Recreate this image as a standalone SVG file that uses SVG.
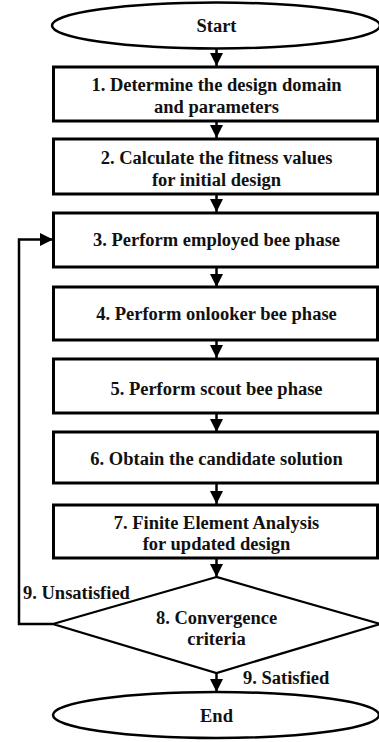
<svg xmlns="http://www.w3.org/2000/svg" width="379" height="742" viewBox="0 0 379 742">
<style>
.box{fill:#fff;stroke:#000;stroke-width:3}
.term{fill:#fff;stroke:#000;stroke-width:2.5}
.dia{fill:#fff;stroke:#000;stroke-width:2.2}
text{font-family:'Liberation Serif','Times New Roman',Times,serif;font-weight:bold;font-size:18.5px;fill:#111}
.t{text-anchor:middle}
.c{fill:none;stroke:#000;stroke-width:2.5}
</style>
<defs>
<marker id="ah" markerWidth="13" markerHeight="13" refX="13" refY="6.5" orient="auto" markerUnits="userSpaceOnUse">
<path d="M0,0 L13,6.5 L0,13 Z" fill="#000"/>
</marker>
</defs>
<g id="connectors">
<line class="c" x1="216.5" y1="49" x2="216.5" y2="66" marker-end="url(#ah)"/>
<line class="c" x1="216.5" y1="121" x2="216.5" y2="138" marker-end="url(#ah)"/>
<line class="c" x1="216.5" y1="194" x2="216.5" y2="212" marker-end="url(#ah)"/>
<line class="c" x1="216.5" y1="267" x2="216.5" y2="287" marker-end="url(#ah)"/>
<line class="c" x1="216.5" y1="340" x2="216.5" y2="358" marker-end="url(#ah)"/>
<line class="c" x1="216.5" y1="413" x2="216.5" y2="432" marker-end="url(#ah)"/>
<line class="c" x1="216.5" y1="483" x2="216.5" y2="504" marker-end="url(#ah)"/>
<line class="c" x1="216.5" y1="558" x2="216.5" y2="577" marker-end="url(#ah)"/>
<line class="c" x1="216.5" y1="673" x2="216.5" y2="692" marker-end="url(#ah)"/>
<polyline class="c" points="53,624 19,624 19,239.5 53,239.5" stroke-width="3" marker-end="url(#ah)"/>
<text x="23" y="599">9. Unsatisfied</text>
<text x="243" y="684">9. Satisfied</text>
</g>
<g id="start">
<ellipse class="term" cx="216" cy="25.5" rx="164" ry="23"/>
<text class="t" x="216.5" y="32">Start</text>
</g>
<g id="step1">
<rect class="box" x="53.5" y="67" width="324" height="54"/>
<text class="t" x="216.5" y="90.5">1. Determine the design domain</text>
<text class="t" x="216.5" y="112.5">and parameters</text>
</g>
<g id="step2">
<rect class="box" x="53.5" y="139" width="324" height="55"/>
<text class="t" x="216.5" y="163.5">2. Calculate the fitness values</text>
<text class="t" x="216.5" y="185.5">for initial design</text>
</g>
<g id="step3">
<rect class="box" x="53.5" y="213" width="324" height="54"/>
<text class="t" x="216.5" y="245.5">3. Perform employed bee phase</text>
</g>
<g id="step4">
<rect class="box" x="53.5" y="287" width="324" height="53"/>
<text class="t" x="216.5" y="319.5">4. Perform onlooker bee phase</text>
</g>
<g id="step5">
<rect class="box" x="53.5" y="359" width="324" height="54"/>
<text class="t" x="216.5" y="394.5">5. Perform scout bee phase</text>
</g>
<g id="step6">
<rect class="box" x="53.5" y="432" width="324" height="51"/>
<text class="t" x="216.5" y="465">6. Obtain the candidate solution</text>
</g>
<g id="step7">
<rect class="box" x="53.5" y="505" width="324" height="53"/>
<text class="t" x="216.5" y="528.5">7. Finite Element Analysis</text>
<text class="t" x="216.5" y="549.5">for updated design</text>
</g>
<g id="decision">
<polygon class="dia" points="216.5,577 53,624 216.5,673 380,624"/>
<text class="t" x="216.5" y="623.5">8. Convergence</text>
<text class="t" x="216.5" y="644.5">criteria</text>
</g>
<g id="end">
<ellipse class="term" cx="216" cy="715" rx="163" ry="23"/>
<text class="t" x="216.5" y="721.5">End</text>
</g>
</svg>
